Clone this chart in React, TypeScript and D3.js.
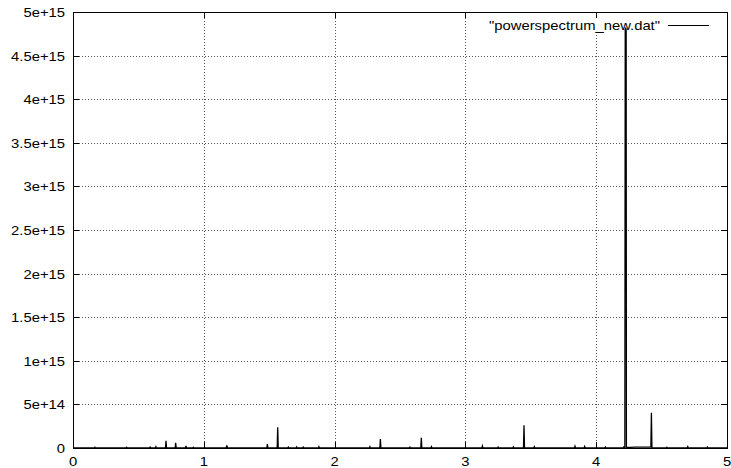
import React from "react";
import * as d3 from "d3";

// Power spectrum samples (frequency, power)
const freq: number[] = [
  0,
  0.165, 0.168, 0.171,
  0.405, 0.41, 0.415,
  0.585, 0.59, 0.595,
  0.63, 0.634, 0.638,
  0.707, 0.711, 0.715,
  0.781, 0.785, 0.789,
  0.86, 0.864, 0.868,
  0.916, 0.92, 0.924,
  1.171, 1.176, 1.181,
  1.482, 1.486, 1.49,
  1.561, 1.565, 1.569,
  1.642, 1.646, 1.65,
  1.706, 1.71, 1.714,
  1.756, 1.76, 1.764,
  1.876, 1.88, 1.884,
  2.266, 2.27, 2.274,
  2.346, 2.35, 2.354,
  2.572, 2.576, 2.58,
  2.659, 2.663, 2.667,
  2.736, 2.74, 2.744,
  3.126, 3.13, 3.134,
  3.246, 3.25, 3.254,
  3.362, 3.366, 3.37,
  3.444, 3.448, 3.452,
  3.523, 3.527, 3.531,
  3.834, 3.838, 3.842,
  3.908, 3.912, 3.916,
  4.066, 4.07, 4.074,
  4.205, 4.21, 4.215,
  4.219, 4.222, 4.2255, 4.229, 4.231,
  4.26, 4.3, 4.35, 4.4, 4.418, 4.422, 4.426, 4.43,
  4.536, 4.54, 4.544,
  4.696, 4.7, 4.704,
  4.846, 4.85, 4.854,
  5,
];

const power: number[] = [
  0,
  0, 8e12, 0,
  0, 8e12, 0,
  0, 1e13, 0,
  0, 1.5e13, 0,
  0, 8.4e13, 0,
  0, 6e13, 0,
  0, 2.5e13, 0,
  0, 8e12, 0,
  0, 3e13, 0,
  0, 4.6e13, 0,
  0, 2.37e14, 0,
  0, 1e13, 0,
  0, 1.2e13, 0,
  0, 1e13, 0,
  0, 1.5e13, 0,
  0, 1.5e13, 0,
  0, 1.03e14, 0,
  0, 1e13, 0,
  0, 1.18e14, 0,
  0, 1.5e13, 0,
  0, 2.2e13, 0,
  0, 1e13, 0,
  0, 1.2e13, 0,
  0, 2.6e14, 0,
  0, 1.5e13, 0,
  0, 2e13, 0,
  0, 1.8e13, 0,
  0, 1e13, 0,
  0, 1e13, 0,
  0, 4.8e15, 4.81e15, 4.79e15, 8e12,
  8e12, 9e12, 1e13, 9e12, 1e13, 4.05e14, 1e13, 0,
  0, 8e12, 0,
  0, 1.5e13, 0,
  0, 1e13, 0,
  0,
];

const xTicks: number[] = [0, 1, 2, 3, 4, 5];
const yTicks: number[] = [0, 5e14, 1e15, 1.5e15, 2e15, 2.5e15, 3e15, 3.5e15, 4e15, 4.5e15, 5e15];
const yTickLabels: string[] = [
  "0", "5e+14", "1e+15", "1.5e+15", "2e+15", "2.5e+15",
  "3e+15", "3.5e+15", "4e+15", "4.5e+15", "5e+15",
];
const seriesTitle = '"powerspectrum_new.dat"';

const W = 731;
const H = 468;
const left = 73;
const right = 727;
const top = 12;
const bottom = 448;
const tickLen = 6;
const stretch = 1.14;
const font = "'Liberation Sans', Arial, Helvetica, sans-serif";

export default function App() {
  const x = d3.scaleLinear().domain([0, 5]).range([left, right]);
  const y = d3.scaleLinear().domain([0, 5e15]).range([bottom, top]);

  const pts: [number, number][] = freq.map((f, i) => [f, power[i]]);
  const line = d3
    .line<[number, number]>()
    .x((d) => x(d[0]))
    .y((d) => y(d[1]));

  // legend block clears the grid beneath it
  const keyLeft = 478;
  const keyRight = 716;
  const keyBottom = 32;

  return (
    <svg
      width={W}
      height={H}
      style={{ position: "absolute", left: 0, top: 0, background: "#fff" }}
      fontFamily={font}
    >
      <rect x={0} y={0} width={W} height={H} fill="#fff" />

      {/* grid */}
      <g stroke="#555" strokeWidth={1} strokeDasharray="1,2" fill="none">
        {xTicks.slice(1, -1).map((t) => {
          const px = Math.round(x(t)) + 0.5;
          const y0 = px > keyLeft && px < keyRight ? keyBottom : top;
          return <line key={"gx" + t} x1={px} x2={px} y1={y0} y2={bottom} />;
        })}
        {yTicks.slice(1, -1).map((t) => {
          const py = Math.round(y(t)) + 0.5;
          return <line key={"gy" + t} x1={left} x2={right} y1={py} y2={py} />;
        })}
      </g>

      {/* ticks (mirrored) */}
      <g stroke="#000" strokeWidth={1}>
        {xTicks.map((t) => {
          const px = Math.round(x(t)) + 0.5;
          return (
            <g key={"tx" + t}>
              <line x1={px} x2={px} y1={bottom} y2={bottom - tickLen} />
              <line x1={px} x2={px} y1={top} y2={top + tickLen} />
            </g>
          );
        })}
        {yTicks.map((t) => {
          const py = Math.round(y(t)) + 0.5;
          return (
            <g key={"ty" + t}>
              <line x1={left} x2={left + tickLen} y1={py} y2={py} />
              <line x1={right} x2={right - tickLen} y1={py} y2={py} />
            </g>
          );
        })}
      </g>

      {/* series */}
      <path d={line(pts) ?? ""} fill="none" stroke="#000" strokeWidth={1.3} />

      {/* frame */}
      <rect
        x={left + 0.5}
        y={top + 0.5}
        width={right - left}
        height={bottom - top}
        fill="none"
        stroke="#000"
        strokeWidth={1}
      />

      {/* tick labels */}
      <g fontSize={13} fill="#000">
        {yTicks.map((t, i) => (
          <text
            key={"ly" + t}
            transform={`translate(${left - 8},${y(t) + 5}) scale(${stretch},1)`}
            textAnchor="end"
          >
            {yTickLabels[i]}
          </text>
        ))}
        {xTicks.map((t) => (
          <text
            key={"lx" + t}
            transform={`translate(${x(t)},${bottom + 17.5}) scale(${stretch},1)`}
            textAnchor="middle"
          >
            {String(t)}
          </text>
        ))}
      </g>

      {/* key */}
      <text
        transform={`translate(660,29.5) scale(${stretch},1)`}
        textAnchor="end"
        fontSize={13}
        fill="#000"
      >
        {seriesTitle}
      </text>
      <line x1={668} x2={709} y1={25.5} y2={25.5} stroke="#000" strokeWidth={1} />
    </svg>
  );
}
